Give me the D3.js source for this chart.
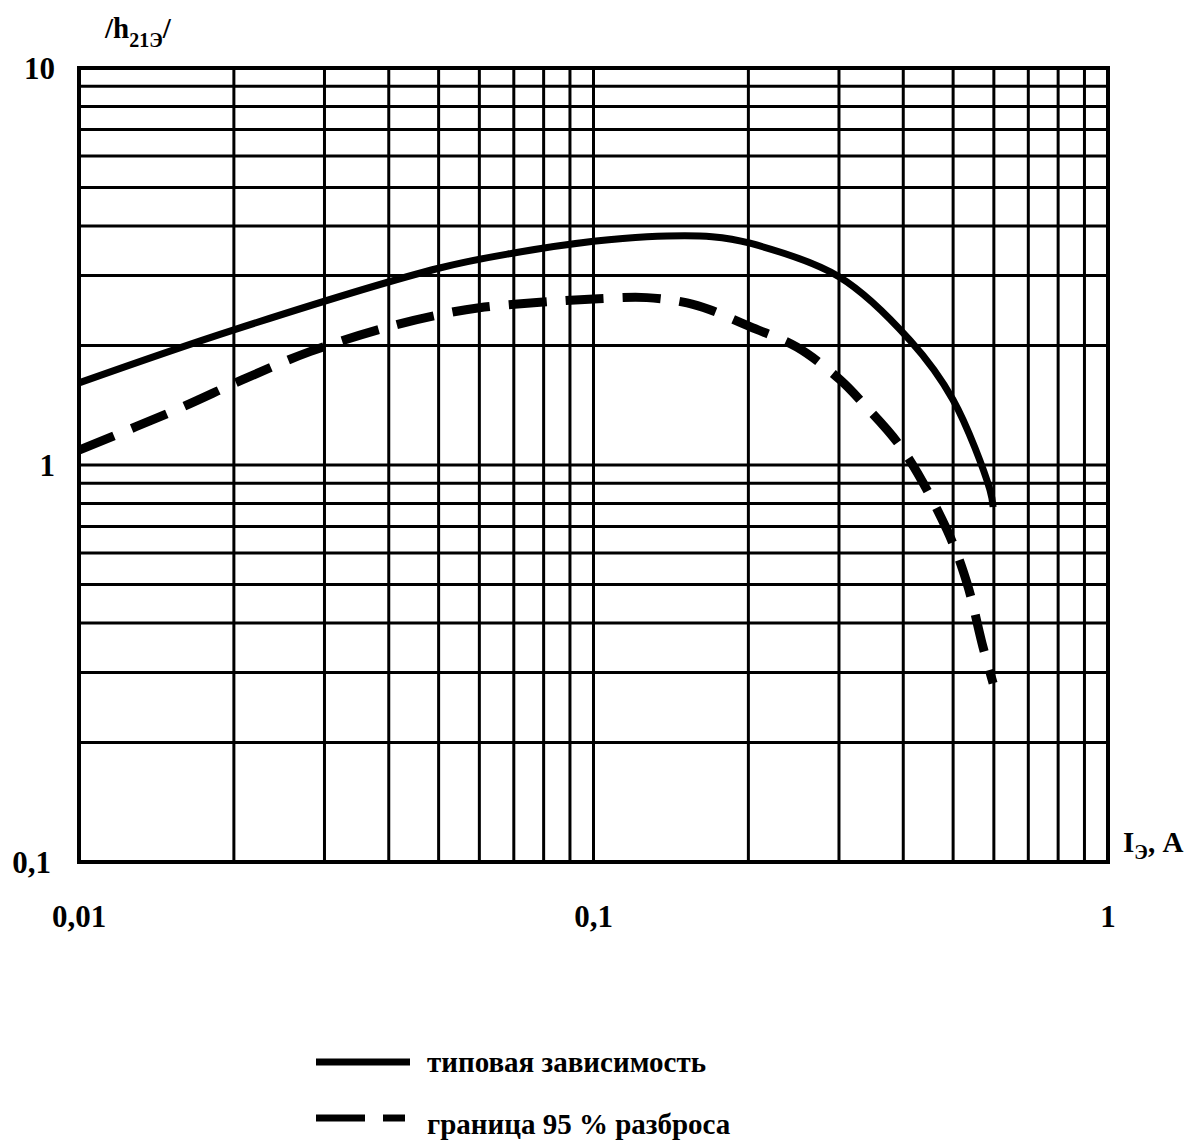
<!DOCTYPE html>
<html>
<head>
<meta charset="utf-8">
<script src="https://cdn.jsdelivr.net/npm/d3@7"></script>
<style>
  body { margin: 0; background: #fff; }
  text { font-family: "Liberation Serif", "Times New Roman", serif; font-weight: bold; fill: #000; }
</style>
</head>
<body>
<svg id="chart" width="1196" height="1148"></svg>
<script>
// emitter current, A  and  |h21e|
var typicalI = [0.01, 0.02, 0.05, 0.07, 0.1, 0.127, 0.17, 0.2015, 0.3, 0.4123, 0.4997, 0.5897, 0.598];
var typicalH = [1.61, 2.19, 3.13, 3.42, 3.66, 3.76, 3.76, 3.62, 2.98, 2.06, 1.46, 0.865, 0.784];

var boundI = [0.01, 0.0157, 0.0208, 0.0281, 0.04, 0.05, 0.06, 0.0787, 0.1, 0.127, 0.152, 0.1684, 0.2015, 0.2486, 0.3013, 0.334, 0.3997, 0.4865, 0.532, 0.5715, 0.598];
var boundH = [1.09, 1.39, 1.64, 1.93, 2.23, 2.39, 2.49, 2.57, 2.62, 2.64, 2.56, 2.46, 2.23, 1.98, 1.64, 1.43, 1.09, 0.686, 0.504, 0.348, 0.282];

var xTickLabels = [["0,01", 0.01], ["0,1", 0.1], ["1", 1]];
var yTickLabels = [["0,1", 0.1], ["1", 1], ["10", 10]];
var legendLabels = ["типовая зависимость", "граница 95 % разброса"];

var svg = d3.select("#chart");

var pLeft = 79, pRight = 1108, pTop = 68, pBottom = 862;

var x = d3.scaleLog().domain([0.01, 1]).range([pLeft, pRight]);
var y = d3.scaleLog().domain([0.1, 10]).range([pBottom, pTop]);

// grid: 1..9 in each decade
var xGrid = [], yGrid = [];
[0.01, 0.1].forEach(function (d) {
    for (var k = 1; k <= 9; k++) xGrid.push(d * k);
});
xGrid.push(1);
[0.1, 1].forEach(function (d) {
    for (var k = 1; k <= 9; k++) yGrid.push(d * k);
});
yGrid.push(10);

var grid = svg.append("g");

grid.selectAll("line.v")
    .data(xGrid)
    .enter()
    .append("line")
    .attr("class", "v")
    .attr("x1", function (d) { return x(d); })
    .attr("x2", function (d) { return x(d); })
    .attr("y1", pTop)
    .attr("y2", pBottom)
    .attr("stroke", "#000")
    .attr("stroke-width", 3);

grid.selectAll("line.h")
    .data(yGrid)
    .enter()
    .append("line")
    .attr("class", "h")
    .attr("x1", pLeft)
    .attr("x2", pRight)
    .attr("y1", function (d) { return y(d); })
    .attr("y2", function (d) { return y(d); })
    .attr("stroke", "#000")
    .attr("stroke-width", 3);

grid.append("rect")
    .attr("x", pLeft)
    .attr("y", pTop)
    .attr("width", pRight - pLeft)
    .attr("height", pBottom - pTop)
    .attr("fill", "none")
    .attr("stroke", "#000")
    .attr("stroke-width", 4);

// curves
var line = d3.line()
    .x(function (d) { return x(d[0]); })
    .y(function (d) { return y(d[1]); })
    .curve(d3.curveCatmullRom.alpha(0.5));

svg.append("path")
    .datum(d3.zip(typicalI, typicalH))
    .attr("d", line)
    .attr("fill", "none")
    .attr("stroke", "#000")
    .attr("stroke-width", 7);

svg.append("path")
    .datum(d3.zip(boundI, boundH))
    .attr("d", line)
    .attr("fill", "none")
    .attr("stroke", "#000")
    .attr("stroke-width", 9)
    .attr("stroke-dasharray", "38,19");

// tick labels
svg.selectAll("text.xt")
    .data(xTickLabels)
    .enter()
    .append("text")
    .attr("class", "xt")
    .attr("x", function (d) { return x(d[1]); })
    .attr("y", 927)
    .attr("text-anchor", "middle")
    .style("font-size", "31px")
    .text(function (d) { return d[0]; });

svg.selectAll("text.yt")
    .data(yTickLabels)
    .enter()
    .append("text")
    .attr("class", "yt")
    .attr("x", function (d) { return d[1] < 1 ? 51 : 55; })
    .attr("y", function (d) { return y(d[1]) + 11; })
    .attr("text-anchor", "end")
    .style("font-size", "31px")
    .text(function (d) { return d[0]; });

// axis titles
var yt = svg.append("text")
    .attr("x", 105)
    .attr("y", 38)
    .style("font-size", "29px");
yt.append("tspan").text("/h");
yt.append("tspan").attr("dy", 9).style("font-size", "20px").text("21Э");
yt.append("tspan").attr("dy", -9).text("/");

var xt = svg.append("text")
    .attr("x", 1123)
    .attr("y", 852)
    .style("font-size", "29px");
xt.append("tspan").text("I");
xt.append("tspan").attr("dy", 7).style("font-size", "20px").text("Э");
xt.append("tspan").attr("dy", -7).text(", A");

// legend
var lg = svg.append("g");
lg.append("line")
    .attr("x1", 316).attr("x2", 410)
    .attr("y1", 1062).attr("y2", 1062)
    .attr("stroke", "#000").attr("stroke-width", 7);
lg.append("line")
    .attr("x1", 316).attr("x2", 365)
    .attr("y1", 1118).attr("y2", 1118)
    .attr("stroke", "#000").attr("stroke-width", 7);
lg.append("line")
    .attr("x1", 383).attr("x2", 405)
    .attr("y1", 1118).attr("y2", 1118)
    .attr("stroke", "#000").attr("stroke-width", 7);

lg.selectAll("text")
    .data(legendLabels)
    .enter()
    .append("text")
    .attr("x", 427)
    .attr("y", function (d, i) { return 1072 + i * 62; })
    .style("font-size", "29px")
    .text(function (d) { return d; });
</script>
</body>
</html>
